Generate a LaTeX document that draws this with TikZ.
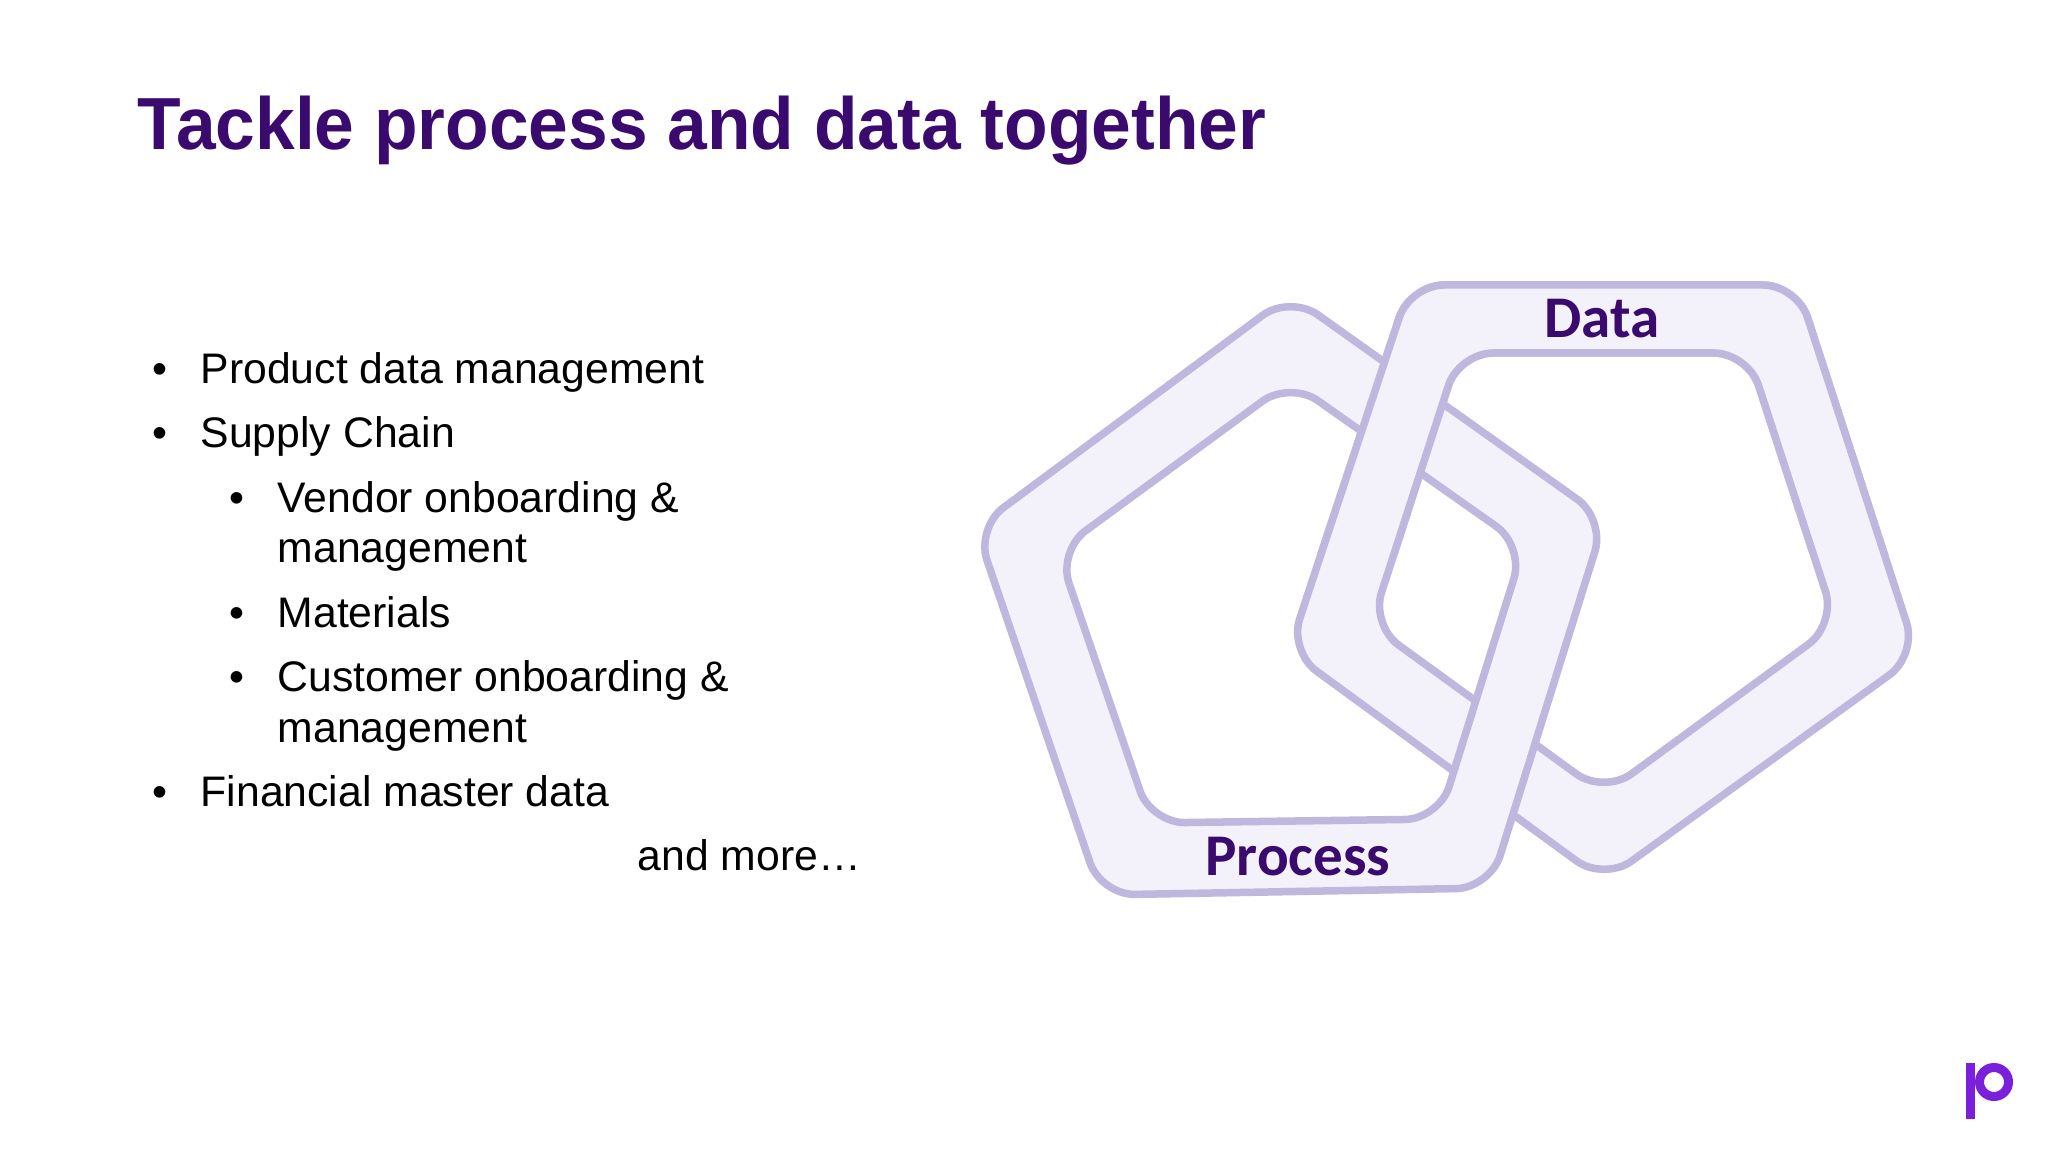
\documentclass[tikz,border=0pt]{standalone}
\usepackage{fontspec}
\setmainfont{Liberation Sans}
\newfontfamily\ringfont{Carlito}
\newfontfamily\titlefont[FakeStretch = 0.966]{Liberation Sans}

\definecolor{titlepurple}{HTML}{3A0A6E}
\definecolor{ringline}{HTML}{BFB7DD}
\definecolor{ringfill}{HTML}{F3F1FA}
\definecolor{logopurple}{HTML}{7A1FDB}

\tikzset{
	titletext/.style = {anchor = base west, inner sep = 0, font = \fontsize{21}{25}\selectfont\titlefont\bfseries, text = titlepurple},
	bodytext/.style = {anchor = base west, inner sep = 0, font = \fontsize{12.15}{15}\selectfont},
	ringtext/.style = {anchor = base, inner sep = 0, font = \fontsize{16.8}{20}\selectfont\ringfont\bfseries, text = titlepurple},
	ring/.style = {draw = ringline, fill = ringfill, line width = 0.075 cm, even odd rule, rounded corners = 0.34 cm}
}

\begin{document}
\begin{tikzpicture}[x = 0.01 cm, y = -0.01 cm]

	% Definitions

	\def\ProcessRing{(1290, 295) -- (976, 528) -- (1101, 895) -- (1490, 888) -- (1605, 519) -- cycle
		(1290, 381) -- (1058, 551) -- (1151, 823) -- (1439, 819) -- (1524, 546) -- cycle}
	\def\DataRing{(1410, 285) -- (1797, 285) -- (1917, 655) -- (1604, 881) -- (1289, 651) -- cycle
		(1459, 353) -- (1748, 353) -- (1836, 624) -- (1604, 794) -- (1371, 625) -- cycle}

	\useasboundingbox (0, 0) rectangle (2048, 1152);

	% Title

	\node [titletext] (title) at (137, 150) {Tackle process and data together};

	% Bullets

	\node [bodytext] (dotproduct) at (152, 384) {•};
	\node [bodytext] (product) at (200, 384) {Product data management};
	\node [bodytext] (dotsupply) at (152, 448) {•};
	\node [bodytext] (supply) at (200, 448) {Supply Chain};
	\node [bodytext] (dotvendor) at (229, 512) {•};
	\node [bodytext] (vendor) at (277, 512) {Vendor onboarding \&};
	\node [bodytext] (vendormore) at (277, 563) {management};
	\node [bodytext] (dotmaterials) at (229, 627) {•};
	\node [bodytext] (materials) at (277, 627) {Materials};
	\node [bodytext] (dotcustomer) at (229, 691) {•};
	\node [bodytext] (customer) at (277, 691) {Customer onboarding \&};
	\node [bodytext] (customermore) at (277, 742) {management};
	\node [bodytext] (dotfinancial) at (152, 806) {•};
	\node [bodytext] (financial) at (200, 806) {Financial master data};
	\node [bodytext] (more) at (637, 870) {and more…};

	% Linked rings, data passes over process at the top

	\draw [ring] \DataRing;
	\draw [ring] \ProcessRing;

	\begin{scope}
		\clip (900, 200) rectangle (2000, 555);
		\draw [ring] \DataRing;
	\end{scope}

	\node [ringtext] (data) at (1602, 338) {Data};
	\node [ringtext] (process) at (1298, 875) {Process};

	% Logo

	\fill [logopurple] (1966, 1063) rectangle (1975, 1119);
	\draw [logopurple, line width = 0.09 cm] (1994, 1082) circle (14.5);

\end{tikzpicture}
\end{document}
